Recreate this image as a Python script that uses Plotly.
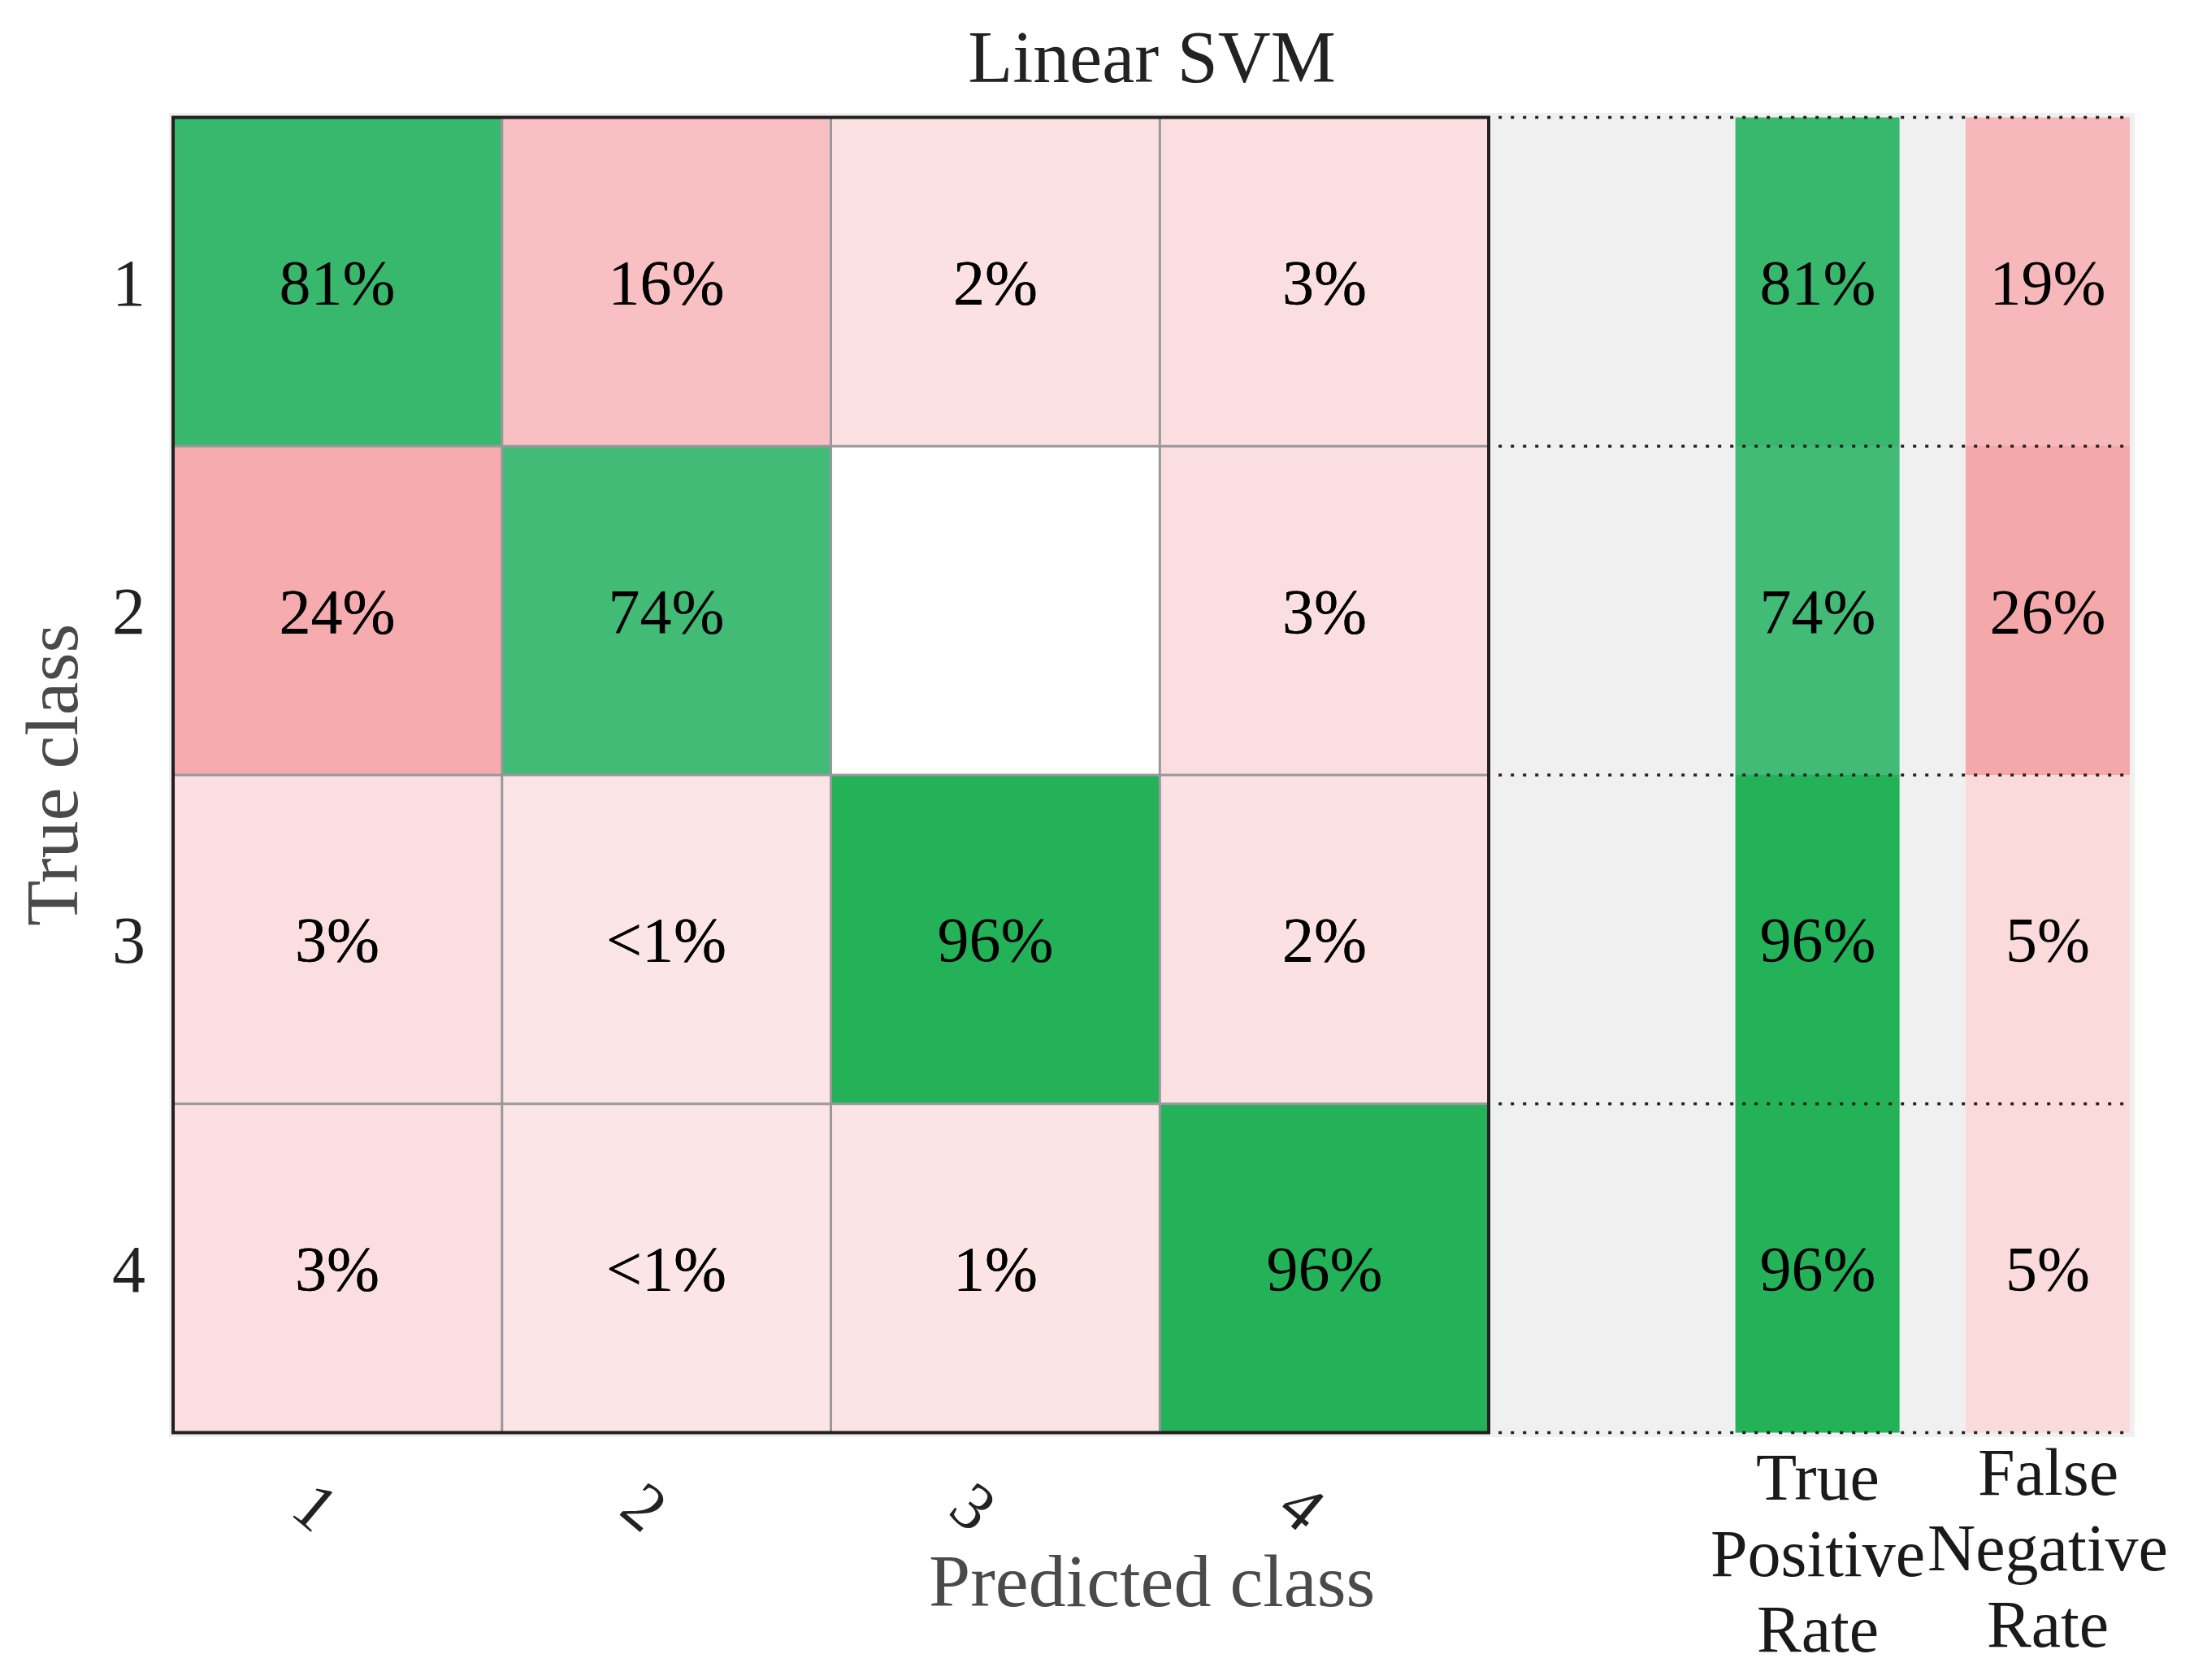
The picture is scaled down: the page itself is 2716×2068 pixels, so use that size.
import plotly.graph_objects as go

# ---------------- data ----------------
classes = ["1", "2", "3", "4"]
conf_pct = [
    [81, 16, 2, 3],
    [24, 74, 0, 3],
    [3, 0.5, 96, 2],
    [3, 0.5, 1, 96],
]
tpr_pct = [81, 74, 96, 96]
fnr_pct = [19, 26, 5, 5]
chart_title = "Linear SVM"
x_title = "Predicted class"
y_title = "True class"
tpr_label_lines = ["True", "Positive", "Rate"]
fnr_label_lines = ["False", "Negative", "Rate"]


def fmt(v):
    if v is None or v == 0:
        return ""
    if v < 1:
        return "<1%"
    return f"{round(v)}%"


# ---------------- geometry (reference pixel space, page has an 8px body margin) ----------------
OFF = 8
W, H = 2716 - 2 * OFF, 2068 - 2 * OFF
ML, MT = 208 - OFF, 139 - OFF
MR = W - (2627 - OFF)
MB = H - (1769 - OFF)
PW, PH = W - ML - MR, H - MT - MB

n = len(classes)
pos = list(range(1, n + 1))
tpr_x, fnr_x, side_w = 5.5, 6.2, 0.5

FONT = "Liberation Serif, Times New Roman, serif"

diag_z = [[conf_pct[i][j] if i == j else None for j in range(n)] for i in range(n)]
off_z = [[conf_pct[i][j] if i != j else None for j in range(n)] for i in range(n)]
txt = [[fmt(conf_pct[i][j]) for j in range(n)] for i in range(n)]

green_scale = [[0, "rgb(72,188,125)"], [1, "rgb(29,177,81)"]]
pink_scale = [[0, "#ffffff"], [0.001, "rgb(252,230,231)"], [1, "rgb(244,158,161)"]]
cell_font = dict(family=FONT, size=78, color="black")

fig = go.Figure()
fig.add_trace(go.Heatmap(x=pos, y=pos, z=off_z, text=txt, texttemplate="%{text}",
                         textfont=cell_font, colorscale=pink_scale, zmin=0, zmax=30,
                         showscale=False, hoverinfo="skip"))
fig.add_trace(go.Heatmap(x=pos, y=pos, z=diag_z, text=txt, texttemplate="%{text}",
                         textfont=cell_font, colorscale=green_scale, zmin=70, zmax=100,
                         showscale=False, hoverinfo="skip"))
fig.add_trace(go.Heatmap(x0=tpr_x, dx=side_w, y=pos, z=[[v] for v in tpr_pct],
                         text=[[fmt(v)] for v in tpr_pct], texttemplate="%{text}",
                         textfont=cell_font, colorscale=green_scale, zmin=70, zmax=100,
                         showscale=False, hoverinfo="skip"))
fig.add_trace(go.Heatmap(x0=fnr_x, dx=side_w, y=pos, z=[[v] for v in fnr_pct],
                         text=[[fmt(v)] for v in fnr_pct], texttemplate="%{text}",
                         textfont=cell_font, colorscale=pink_scale, zmin=0, zmax=30,
                         showscale=False, hoverinfo="skip"))

# grid lines inside the matrix
shapes = []
lo, hi = pos[0] - 0.5, pos[-1] + 0.5
for k in pos[:-1]:
    b = k + 0.5
    shapes.append(dict(type="line", xref="x", yref="y", x0=b, x1=b, y0=lo, y1=hi,
                       line=dict(color="#98989c", width=3), layer="above"))
    shapes.append(dict(type="line", xref="x", yref="y", x0=lo, x1=hi, y0=b, y1=b,
                       line=dict(color="#98989c", width=3), layer="above"))
# frame
shapes.append(dict(type="rect", xref="x", yref="y", x0=lo, x1=hi, y0=lo, y1=hi,
                   line=dict(color="#231f20", width=4), layer="above"))
# dotted row separators on the right panel
for k in [p - 0.5 for p in pos] + [hi]:
    shapes.append(dict(type="line", xref="x", yref="y", x0=hi + 0.03,
                       x1=fnr_x + side_w / 2, y0=k, y1=k,
                       line=dict(color="#231f20", width=3.5, dash="4px,11px"), layer="above"))


def px_x(p):
    return (p - OFF - ML) / PW


def px_y(p):
    return (H - MB - (p - OFF)) / PH


axis_title_font = dict(family=FONT, size=92, color="#4a4a4a")
label_font = dict(family=FONT, size=82, color="#1a1a1a")
annotations = [
    dict(text=x_title, xref="paper", yref="paper", x=0.5, y=px_y(1946),
         xanchor="center", yanchor="middle", showarrow=False, font=axis_title_font),
    dict(text=y_title, xref="paper", yref="paper", x=px_x(64), y=px_y(954),
         xanchor="center", yanchor="middle", showarrow=False, textangle=-90,
         font=axis_title_font),
]
for line, yc in zip(tpr_label_lines, [1818, 1912, 2005]):
    annotations.append(dict(text=line, xref="x", yref="paper", x=tpr_x, y=px_y(yc),
                            xanchor="center", yanchor="middle", showarrow=False,
                            font=label_font))
for line, yc in zip(fnr_label_lines, [1812, 1905, 1999]):
    annotations.append(dict(text=line, xref="x", yref="paper", x=fnr_x, y=px_y(yc),
                            xanchor="center", yanchor="middle", showarrow=False,
                            font=label_font))

fig.update_layout(
    width=W, height=H,
    margin=dict(l=ML, r=MR, t=MT, b=MB, autoexpand=False),
    paper_bgcolor="white", plot_bgcolor="#f0f0f0",
    title=dict(text=chart_title, x=0.5, xref="paper", y=1 - (69 - OFF) / H,
               yref="container", xanchor="center", yanchor="middle",
               font=dict(family=FONT, size=90, color="#222222")),
    shapes=shapes, annotations=annotations, showlegend=False,
)
fig.update_xaxes(range=[0.4876, 6.464], tickvals=pos, ticktext=classes, tickangle=40,
                 showgrid=False, zeroline=False, showline=False, ticks="",
                 ticklabelstandoff=20, ticklabelshift=-34,
                 tickfont=dict(family=FONT, size=82, color="#222222"))
fig.update_yaxes(range=[4.5136, 0.4864], tickvals=pos, ticktext=classes,
                 showgrid=False, zeroline=False, showline=False, ticks="",
                 ticklabelstandoff=28,
                 tickfont=dict(family=FONT, size=82, color="#222222"))

fig.write_html("out.html")
